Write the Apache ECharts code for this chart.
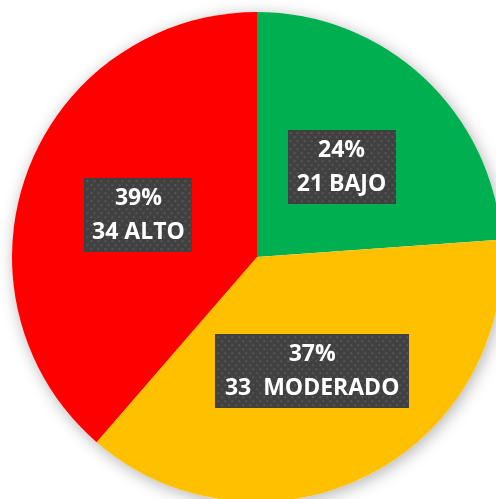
<!DOCTYPE html>
<html>
<head>
<meta charset="utf-8">
<script src="https://cdn.jsdelivr.net/npm/echarts@6/dist/echarts.min.js"></script>
<style>
html,body{margin:0;padding:0;background:#fff;}
#main{width:496px;height:499px;}
</style>
</head>
<body>
<div id="main"></div>
<script>
// Data
var categories = ['BAJO', 'MODERADO', 'ALTO'];
var values = [21, 33, 34];
var pctLabels = ['24%', '37%', '39%'];
var countLabels = ['21 BAJO', '33  MODERADO', '34 ALTO'];
var colors = ['#00B050', '#FFC000', '#FF0000'];

function makePattern(w, h) {
  var c = document.createElement('canvas');
  c.width = w; c.height = h;
  var ctx = c.getContext('2d');
  ctx.fillStyle = '#404040';
  ctx.fillRect(0, 0, w, h);
  ctx.fillStyle = '#565656';
  var row = 0;
  for (var y = 2; y < h; y += 4) {
    var off = (row % 2) ? 3.5 : 0;
    for (var x = 2 + off; x < w; x += 7) {
      ctx.fillRect(Math.round(x), y, 2, 2);
    }
    row++;
  }
  return c;
}

var labelWidths = [108, 194, 108];

var chart = echarts.init(document.getElementById('main'), null, {renderer: 'canvas'});

var dataItems = categories.map(function (name, i) {
  return {
    name: name,
    value: values[i],
    itemStyle: {color: colors[i]},
    label: {
      width: labelWidths[i],
      backgroundColor: {image: makePattern(labelWidths[i], 74)}
    }
  };
});

chart.setOption({
  animation: false,
  series: [
    {
      type: 'pie',
      silent: true,
      center: [257, 257],
      radius: 245,
      z: 1,
      label: {show: false},
      labelLine: {show: false},
      itemStyle: {
        color: '#ffffff',
        shadowColor: 'rgba(0,0,0,0.3)',
        shadowBlur: 16,
        shadowOffsetX: 2,
        shadowOffsetY: 3
      },
      data: [{value: 1, name: 'bg'}]
    },
    {
      type: 'pie',
      center: [257, 257],
      radius: 245,
      startAngle: 90,
      clockwise: true,
      z: 2,
      itemStyle: {borderWidth: 0},
      emphasis: {disabled: true},
      labelLine: {show: false},
      label: {
        show: true,
        position: 'inside',
        offset: [-1, 2],
        formatter: function (p) {
          return pctLabels[p.dataIndex] + '\n' + countLabels[p.dataIndex];
        },
        color: '#ffffff',
        fontFamily: 'Open Sans',
        fontWeight: 'bold',
        fontSize: 23,
        lineHeight: 34,
        height: 68,
        padding: [3, 0, 3, 0],
        align: 'center',
        verticalAlign: 'middle',
        shadowColor: 'rgba(0,0,0,0.55)',
        shadowBlur: 6,
        shadowOffsetX: 4,
        shadowOffsetY: 4
      },
      data: dataItems
    }
  ]
});
</script>
</body>
</html>
